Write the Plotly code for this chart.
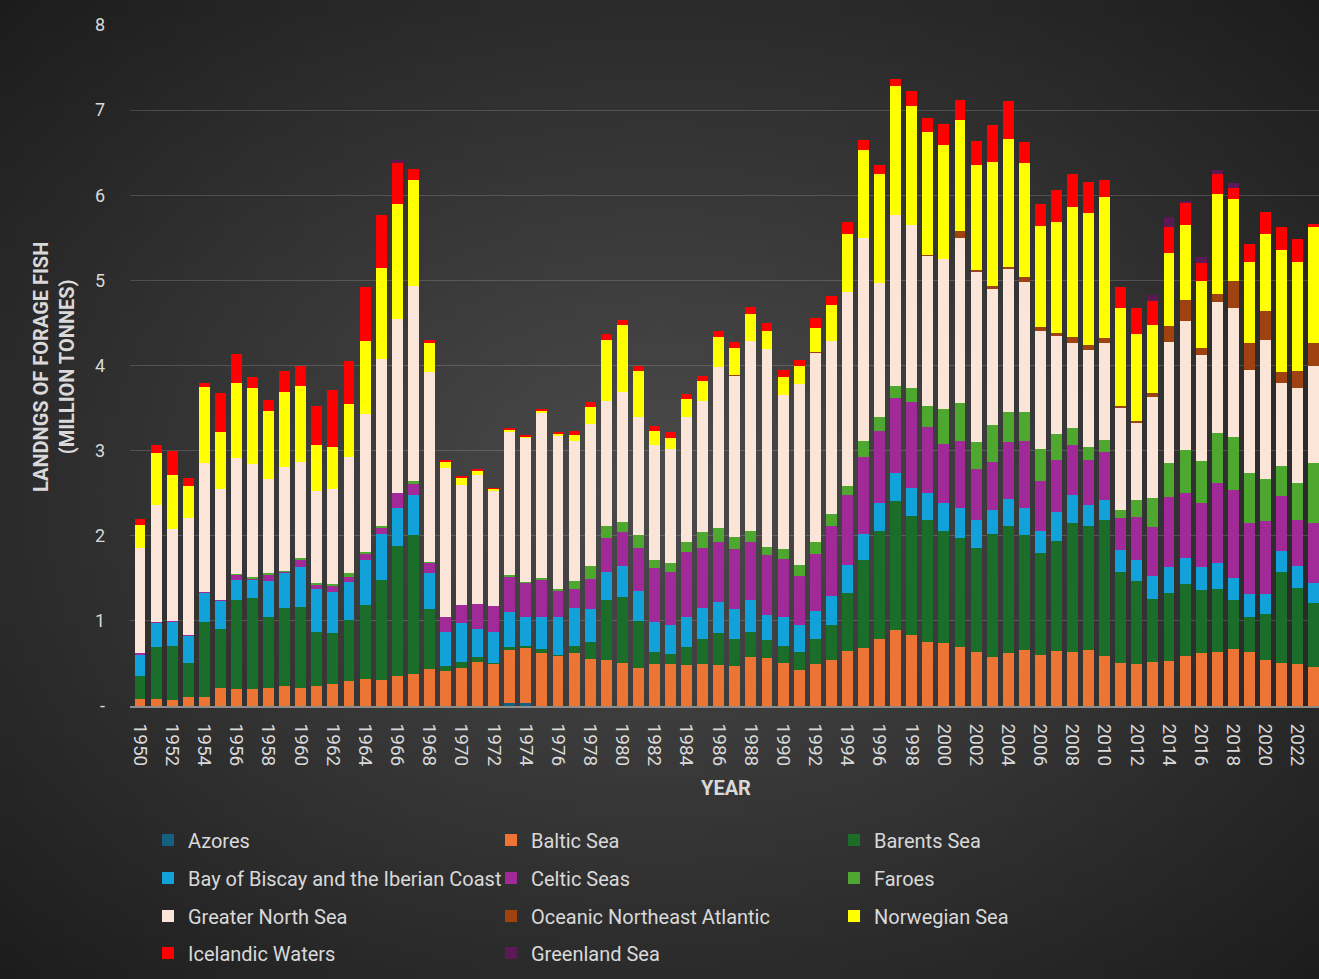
import base64
import struct
import zlib
import plotly.graph_objects as go

# ---------------- data (million tonnes) ----------------
years = list(range(1950, 2024))

azores = [0.0] * 23 + [0.04, 0.03] + [0.0] * 49

baltic = [0.08, 0.08, 0.07, 0.11, 0.11, 0.21, 0.20, 0.20, 0.21, 0.23,
          0.21, 0.23, 0.26, 0.29, 0.32, 0.30, 0.35, 0.38, 0.43, 0.41,
          0.45, 0.52, 0.50, 0.62, 0.66, 0.62, 0.59, 0.62, 0.55, 0.54,
          0.50, 0.45, 0.49, 0.49, 0.48, 0.49, 0.48, 0.47, 0.57, 0.56,
          0.51, 0.42, 0.49, 0.54, 0.65, 0.68, 0.79, 0.89, 0.83, 0.75,
          0.74, 0.69, 0.63, 0.57, 0.62, 0.66, 0.60, 0.65, 0.64, 0.66,
          0.59, 0.50, 0.49, 0.52, 0.53, 0.59, 0.62, 0.63, 0.67, 0.63,
          0.54, 0.51, 0.49, 0.46]

barents = [0.27, 0.61, 0.63, 0.40, 0.88, 0.69, 1.05, 1.07, 0.83, 0.92,
           0.95, 0.64, 0.60, 0.72, 0.87, 1.18, 1.53, 1.63, 0.71, 0.06,
           0.07, 0.06, 0.01, 0.03, 0.02, 0.05, 0.01, 0.08, 0.20, 0.71,
           0.78, 0.55, 0.15, 0.12, 0.21, 0.30, 0.38, 0.32, 0.30, 0.22,
           0.20, 0.21, 0.30, 0.41, 0.68, 1.03, 1.27, 1.52, 1.40, 1.43,
           1.32, 1.28, 1.23, 1.45, 1.50, 1.35, 1.20, 1.29, 1.51, 1.45,
           1.59, 1.08, 0.98, 0.74, 0.80, 0.84, 0.74, 0.74, 0.57, 0.41,
           0.54, 1.07, 0.90, 0.75]

biscay = [0.26, 0.29, 0.29, 0.32, 0.34, 0.34, 0.23, 0.22, 0.43, 0.42,
          0.47, 0.50, 0.48, 0.45, 0.52, 0.54, 0.45, 0.47, 0.42, 0.40,
          0.46, 0.33, 0.36, 0.41, 0.33, 0.38, 0.44, 0.45, 0.39, 0.32,
          0.36, 0.35, 0.35, 0.34, 0.35, 0.36, 0.36, 0.35, 0.37, 0.29,
          0.34, 0.32, 0.33, 0.34, 0.33, 0.31, 0.32, 0.33, 0.33, 0.32,
          0.32, 0.36, 0.33, 0.28, 0.31, 0.32, 0.26, 0.34, 0.33, 0.25,
          0.24, 0.25, 0.24, 0.27, 0.30, 0.31, 0.27, 0.31, 0.26, 0.27,
          0.24, 0.24, 0.26, 0.23]

celtic = [0.01, 0.01, 0.01, 0.01, 0.01, 0.01, 0.06, 0.01, 0.08, 0.01,
          0.09, 0.06, 0.08, 0.06, 0.07, 0.08, 0.17, 0.13, 0.12, 0.18,
          0.21, 0.29, 0.31, 0.42, 0.41, 0.44, 0.31, 0.23, 0.35, 0.40,
          0.40, 0.51, 0.63, 0.62, 0.77, 0.71, 0.71, 0.70, 0.69, 0.70,
          0.68, 0.58, 0.67, 0.83, 0.82, 0.90, 0.85, 0.88, 1.01, 0.78,
          0.70, 0.78, 0.60, 0.57, 0.67, 0.78, 0.58, 0.61, 0.59, 0.53,
          0.56, 0.38, 0.51, 0.57, 0.83, 0.76, 0.76, 0.94, 1.04, 0.84,
          0.85, 0.65, 0.53, 0.71]

faroes = [0.00, 0.00, 0.00, 0.00, 0.00, 0.00, 0.01, 0.02, 0.01, 0.01,
          0.02, 0.01, 0.01, 0.04, 0.03, 0.02, 0.00, 0.03, 0.01, 0.00,
          0.00, 0.00, 0.00, 0.02, 0.01, 0.01, 0.03, 0.09, 0.16, 0.15,
          0.12, 0.15, 0.10, 0.11, 0.12, 0.18, 0.16, 0.15, 0.12, 0.10,
          0.12, 0.13, 0.14, 0.14, 0.10, 0.19, 0.17, 0.14, 0.16, 0.24,
          0.41, 0.45, 0.31, 0.43, 0.35, 0.34, 0.38, 0.31, 0.19, 0.15,
          0.15, 0.09, 0.20, 0.34, 0.40, 0.51, 0.49, 0.59, 0.62, 0.59,
          0.50, 0.35, 0.44, 0.70]

north_sea = [1.24, 1.37, 1.08, 1.37, 1.51, 1.30, 1.36, 1.32, 1.11, 1.22,
             1.13, 1.09, 1.12, 1.36, 1.62, 1.96, 2.05, 2.29, 2.23, 1.75,
             1.41, 1.51, 1.35, 1.68, 1.69, 1.94, 1.80, 1.64, 1.66, 1.46,
             1.53, 1.39, 1.35, 1.34, 1.46, 1.54, 1.89, 1.89, 2.24, 2.32,
             1.80, 2.12, 2.22, 2.03, 2.28, 2.39, 1.57, 2.01, 1.92, 1.77,
             1.76, 1.94, 2.01, 1.60, 1.69, 1.53, 1.39, 1.15, 1.01, 1.14,
             1.14, 1.20, 0.91, 1.19, 1.42, 1.51, 1.24, 1.54, 1.51, 1.21,
             1.63, 0.97, 1.12, 1.15]

oceanic = [0.00] * 37 + [0.01, 0.00, 0.00,
           0.00, 0.00, 0.01, 0.00, 0.00, 0.00, 0.00, 0.00, 0.00, 0.01,
           0.00, 0.08, 0.01, 0.03, 0.02, 0.06, 0.04, 0.03, 0.07, 0.06,
           0.05, 0.03, 0.02, 0.05, 0.18, 0.25, 0.08, 0.09, 0.32, 0.31,
           0.34, 0.13, 0.19, 0.26]

norwegian = [0.27, 0.61, 0.63, 0.38, 0.90, 0.67, 0.88, 0.89, 0.79, 0.88,
             0.89, 0.54, 0.49, 0.63, 0.86, 1.06, 1.35, 1.25, 0.35, 0.07,
             0.08, 0.06, 0.02, 0.03, 0.02, 0.03, 0.02, 0.07, 0.20, 0.72,
             0.78, 0.54, 0.16, 0.13, 0.22, 0.24, 0.35, 0.32, 0.31, 0.22,
             0.21, 0.22, 0.28, 0.42, 0.68, 1.03, 1.28, 1.51, 1.40, 1.44,
             1.34, 1.30, 1.24, 1.46, 1.50, 1.34, 1.19, 1.30, 1.52, 1.55,
             1.66, 1.15, 1.02, 0.79, 0.86, 0.88, 0.79, 1.17, 0.97, 0.96,
             0.91, 1.44, 1.29, 1.37]

icelandic = [0.07, 0.10, 0.29, 0.09, 0.05, 0.46, 0.34, 0.14, 0.14, 0.25,
             0.24, 0.46, 0.67, 0.50, 0.63, 0.63, 0.48, 0.13, 0.03, 0.02,
             0.02, 0.02, 0.01, 0.02, 0.01, 0.02, 0.02, 0.05, 0.06, 0.07,
             0.06, 0.06, 0.06, 0.07, 0.06, 0.06, 0.07, 0.07, 0.09, 0.09,
             0.09, 0.07, 0.12, 0.11, 0.14, 0.12, 0.11, 0.09, 0.17, 0.17,
             0.25, 0.24, 0.28, 0.43, 0.45, 0.25, 0.26, 0.38, 0.39, 0.37,
             0.20, 0.24, 0.30, 0.29, 0.31, 0.26, 0.22, 0.24, 0.13, 0.21,
             0.25, 0.27, 0.27, 0.03]

greenland = [0.00] * 16 + [0.03] + [0.00] * 46 + [0.07, 0.11, 0.02, 0.06, 0.05, 0.05] + [0.00] * 5

tick_years = list(range(1950, 2023, 2))
tick_labels = [str(y) for y in tick_years]
y_ticks = [0, 1, 2, 3, 4, 5, 6, 7, 8]
y_tick_labels = ["-", "1", "2", "3", "4", "5", "6", "7", "8"]

# name, values, colour, legend row
series = [
    ("Azores", azores, "#156082", "legend"),
    ("Baltic Sea", baltic, "#EE7433", "legend"),
    ("Barents Sea", barents, "#1B6E2A", "legend"),
    ("Bay of Biscay and the Iberian Coast", biscay, "#12A2DA", "legend2"),
    ("Celtic Seas", celtic, "#A22A98", "legend2"),
    ("Faroes", faroes, "#4EA72E", "legend2"),
    ("Greater North Sea", north_sea, "#FBE4D8", "legend3"),
    ("Oceanic Northeast Atlantic", oceanic, "#A0420F", "legend3"),
    ("Norwegian Sea", norwegian, "#FFFF00", "legend3"),
    ("Icelandic Waters", icelandic, "#FF0000", "legend4"),
    ("Greenland Sea", greenland, "#5C1A55", "legend4"),
]


def gradient_png(w, h):
    rows = []
    for j in range(h):
        row = bytearray([0])
        for i in range(w):
            dx = ((i + 0.5) / w - 0.5) / 0.5
            dy = ((j + 0.5) / h - 0.5) / 0.5
            d = min(1.0, ((dx * dx + dy * dy) ** 0.5) / (2 ** 0.5))
            v = int(round(74 - 46 * d ** 1.1))
            row += bytes([v, v, v])
        rows.append(bytes(row))
    raw = b"".join(rows)

    def chunk(tag, data):
        return (struct.pack(">I", len(data)) + tag + data
                + struct.pack(">I", zlib.crc32(tag + data) & 0xFFFFFFFF))

    png = (b"\x89PNG\r\n\x1a\n"
           + chunk(b"IHDR", struct.pack(">IIBBBBB", w, h, 8, 2, 0, 0, 0))
           + chunk(b"IDAT", zlib.compress(raw, 9))
           + chunk(b"IEND", b""))
    return "data:image/png;base64," + base64.b64encode(png).decode()


W, H = 1319, 979
ML, MR, MT, MB = 130, 0, 25, 273
PW, PH = W - ML - MR, H - MT - MB

fig = go.Figure()
for name, vals, color, leg in series:
    fig.add_trace(go.Bar(
        x=years, y=vals, name=name, legend=leg, width=0.68,
        marker=dict(color=color, line=dict(width=0)),
    ))

text_col = "#D9D9D9"
legend_font = dict(family="Roboto, sans-serif", size=20, color=text_col)


def px_x(px):
    return (px - ML) / PW


def px_y(py):
    return (H - MB - py) / PH


legend_common = dict(orientation="h", traceorder="normal", bgcolor="rgba(0,0,0,0)",
                     font=legend_font, entrywidth=298, entrywidthmode="pixels",
                     xanchor="left", yanchor="middle", itemclick=False, itemdoubleclick=False)

fig.update_layout(
    width=W, height=H,
    margin=dict(l=ML, r=MR, t=MT, b=MB),
    barmode="stack",
    paper_bgcolor="#383838",
    plot_bgcolor="rgba(0,0,0,0)",
    showlegend=True,
    legend=dict(legend_common, x=px_x(148), y=px_y(840)),
    legend2=dict(legend_common, x=px_x(148), y=px_y(878)),
    legend3=dict(legend_common, x=px_x(148), y=px_y(916)),
    legend4=dict(legend_common, x=px_x(148), y=px_y(953)),
    xaxis=dict(
        range=[1949.38, 2023.33], tickmode="array", tickvals=tick_years, ticktext=tick_labels,
        tickangle=90, tickfont=dict(family="Roboto, sans-serif", size=19, color=text_col),
        showgrid=False, zeroline=False, showline=True, linecolor="#8C8C8C", linewidth=1.5,
        ticks="", ticklabelstandoff=12, fixedrange=True,
    ),
    yaxis=dict(
        range=[0, 8], tickmode="array", tickvals=y_ticks, ticktext=y_tick_labels,
        tickfont=dict(family="Roboto, sans-serif", size=18, color=text_col),
        showgrid=True, gridcolor="rgba(255,255,255,0.16)", gridwidth=1,
        zeroline=False, showline=False, ticks="", ticklabelstandoff=24, fixedrange=True,
    ),
    images=[dict(
        source=gradient_png(132, 98), xref="paper", yref="paper",
        x=-ML / PW, y=1 + MT / PH, sizex=W / PW, sizey=H / PH,
        xanchor="left", yanchor="top", sizing="stretch", layer="below",
    )],
    annotations=[
        dict(text="<b>YEAR</b>", xref="paper", yref="paper", x=px_x(726), y=px_y(788),
             showarrow=False, xanchor="center", yanchor="middle",
             font=dict(family="Roboto, sans-serif", size=20, color=text_col)),
        dict(text="<b>LANDNGS OF FORAGE FISH<br>(MILLION TONNES)</b>", xref="paper", yref="paper",
             x=px_x(54), y=px_y(367), showarrow=False, textangle=-90,
             xanchor="center", yanchor="middle",
             font=dict(family="Roboto, sans-serif", size=20, color=text_col)),
    ],
)

fig.write_html("out.html", config={"displayModeBar": False},
               post_script="document.body.style.margin='0';document.body.style.overflow='hidden';")
